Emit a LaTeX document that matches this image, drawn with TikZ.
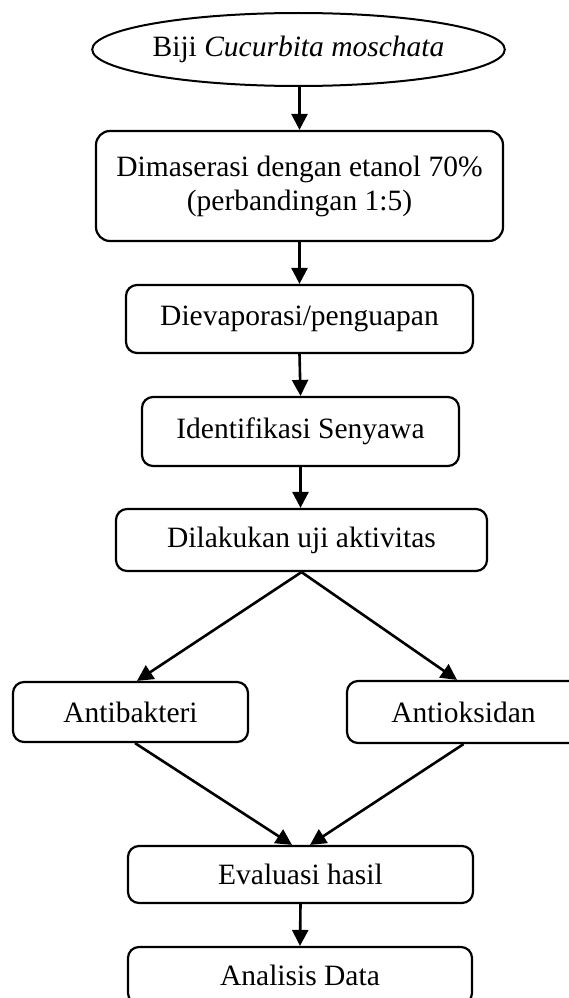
\documentclass[tikz,border=0pt]{standalone}
\usepackage{fontspec}
\setmainfont{Liberation Serif}
\usetikzlibrary{arrows.meta,shapes.geometric,calc}
\begin{document}
\begin{tikzpicture}[x=1pt,y=-1pt,
  every node/.style={font=\fontsize{29.5}{34}\selectfont},
  box/.style={draw,line width=2.2pt,rounded corners=11pt,inner sep=0pt,align=center},
  arr/.style={line width=2.6pt,-{Triangle[length=16pt,width=16pt]}}]
\useasboundingbox (0,0) rectangle (568,998);
\node[draw,ellipse,line width=2pt,minimum width=407pt,minimum height=73pt,inner sep=0pt] (e) at (298.5,49.5) {Biji \textit{Cucurbita moschata}};
\node[box,rounded corners=14pt,minimum width=407pt,minimum height=110pt] (b1) at (299.5,186) {Dimaserasi dengan etanol 70\%\\(perbandingan 1:5)};
\node[box,minimum width=347pt,minimum height=68pt] (b2) at (299.5,319) {Dievaporasi/penguapan};
\node[box,minimum width=317pt,minimum height=69pt] (b3) at (300.5,431.5) {Identifikasi Senyawa};
\node[box,minimum width=371pt,minimum height=62pt] (b4) at (301.5,540) {Dilakukan uji aktivitas};
\node[box,minimum width=235pt,minimum height=60pt] (ab) at (130.5,712) {Antibakteri};
\node[box,minimum width=233pt,minimum height=62pt] (ao) at (463.5,712) {Antioksidan};
\node[box,minimum width=345pt,minimum height=57pt] (ev) at (300.5,874.5) {Evaluasi hasil};
\node[box,minimum width=344pt,minimum height=57pt] (ad) at (300,975.5) {Analisis Data};
\draw[arr] (e.south -| b1.north) -- (b1.north);
\draw[arr] (b1.south) -- (b2.north);
\draw[arr] (b2.south) -- (b3.north);
\draw[arr] (b3.south) -- (b4.north -| b3.south);
\draw[arr] (b4.south) -- ($(ab.north)+(6.5,0)$);
\draw[arr] (b4.south) -- ($(ao.north)+(-6.5,0)$);
\draw[arr] ($(ab.south)+(4.5,0)$) -- ($(ev.north)+(-8.5,0)$);
\draw[arr] (ao.south) -- ($(ev.north)+(9.5,0)$);
\draw[arr] (ev.south) -- (ad.north);
\end{tikzpicture}
\end{document}
